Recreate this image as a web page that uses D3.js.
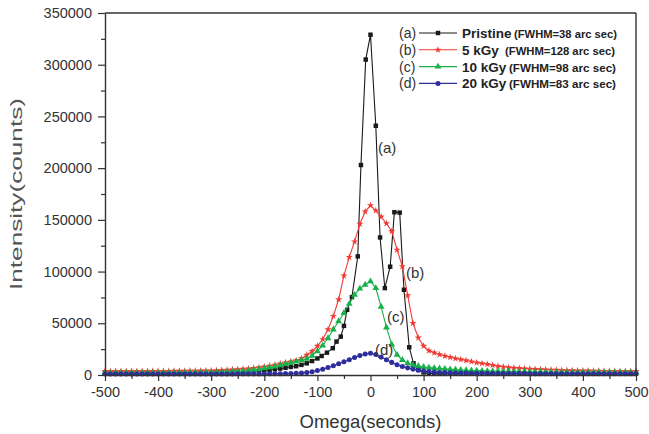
<!DOCTYPE html>
<html><head><meta charset="utf-8">
<script src="https://cdn.jsdelivr.net/npm/d3@7/dist/d3.min.js"></script>
<style>body{margin:0;background:#fff}svg{display:block;font-family:"Liberation Sans",Arial,sans-serif}</style>
</head><body><svg id="c" width="649" height="434"></svg>
<script>
// ---- data ----
const omega = [
  -500,-490,-480,-470,-460,-450,-440,-430,-420,-410,
  -400,-390,-380,-370,-360,-350,-340,-330,-320,-310,
  -300,-290,-280,-270,-260,-250,-240,-230,-220,-210,
  -200,-190,-180,-170,-160,-150,-140,-130,-120,-110,
  -100,-90,-80,-70,-60,-50,-40,-30,-20,-10,
  0,10,20,30,40,50,60,70,80,90,
  100,110,120,130,140,150,160,170,180,190,
  200,210,220,230,240,250,260,270,280,290,
  300,310,320,330,340,350,360,370,380,390,
  400,410,420,430,440,450,460,470,480,490,
  500];
const omegaA = [
  -500,-490,-480,-470,-460,-450,-440,-430,-420,-410,
  -400,-390,-380,-370,-360,-350,-340,-330,-320,-310,
  -300,-290,-280,-270,-260,-250,-240,-230,-220,-210,
  -200,-190,-180,-170,-160,-150,-140,-130,-120,-110,
  -100,-92,-82,-71,-64,-56,-50,-44,-35,-24,
  -18,-9,0,10,18,27,37,45,55,63,
  73,81,90,100,110,120,130,140,150,160,
  170,180,190,200,210,220,230,240,250,260,
  270,280,290,300,310,320,330,340,350,360,
  370,380,390,400,410,420,430,440,450,460,
  470,480,490,500];
const pristine = [
  2000,2000,2000,2000,2000,2000,2000,2000,2000,2000,
  2000,2000,2000,2100,2100,2100,2200,2200,2300,2400,
  2500,2600,2700,2800,2900,3000,3200,3500,3800,4100,
  4500,5000,5500,6200,7000,7800,8500,9800,11300,13500,
  16000,18400,21600,25900,32300,37100,47500,63000,75300,114700,
  203000,305000,329000,241000,133000,84000,104700,157400,157000,82400,
  26800,11300,5000,2500,1600,1400,1300,1300,1200,1200,
  1200,1200,1200,1200,1200,1200,1200,1200,1200,1200,
  1200,1200,1200,1200,1200,1200,1200,1200,1200,1200,
  1200,1200,1200,1200,1200,1200,1200,1200,1200,1200,
  1200,1200,1200,1200];
const kGy5 = [
  3600,3600,3600,3600,3600,3700,3700,3700,3700,3800,
  3800,3800,3800,3900,3900,3900,4000,4000,4100,4200,
  4300,4500,4700,4900,5200,5500,5800,6200,6700,7300,
  8000,8800,9800,10900,12000,13000,14000,16000,19400,23000,
  28000,34500,44000,57000,73000,96000,114000,129000,146000,158000,
  164000,159000,153000,146500,139000,121000,105000,77000,50000,36000,
  28000,23500,21500,19800,18400,17200,16000,15000,14000,13000,
  12000,11200,10400,9500,8600,7900,7300,6900,6500,6200,
  5900,5600,5400,5200,5000,4800,4600,4500,4400,4300,
  4200,4100,4000,3900,3800,3800,3700,3700,3600,3600,
  3600];
const kGy10 = [
  2000,2000,2000,2000,2000,2000,2000,2000,2000,2000,
  2100,2100,2100,2100,2200,2200,2200,2300,2300,2400,
  2500,2600,2700,2900,3100,3400,3800,4300,4900,5600,
  6400,7300,8300,9400,10600,11800,13000,14200,15600,18500,
  23000,28500,35500,44000,52000,60000,68800,77500,83500,87300,
  90500,84000,66000,46000,29500,19500,14500,11500,9700,8700,
  7800,7200,6700,6300,5900,5500,5200,4900,4600,4400,
  4200,4000,3800,3700,3600,3500,3400,3300,3200,3100,
  3000,2900,2900,2800,2800,2700,2700,2600,2600,2600,
  2500,2500,2500,2500,2400,2400,2400,2400,2400,2400,
  2400];
const kGy20 = [
  1000,1000,1000,1000,1000,1000,1000,1000,1000,1000,
  1000,1000,1000,1000,1000,1000,1000,1000,1000,1000,
  1000,1000,1000,1000,1000,1100,1100,1100,1100,1100,
  1200,1200,1200,1300,1400,1500,1700,1900,2300,3200,
  4300,5500,7300,9000,10800,12800,14800,17000,18800,20300,
  21000,19800,17300,14700,12200,10000,8300,6900,5700,4700,
  3900,3300,2800,2500,2300,2100,2000,1900,1800,1700,
  1700,1600,1600,1500,1500,1500,1400,1400,1400,1400,
  1300,1300,1300,1300,1300,1300,1200,1200,1200,1200,
  1200,1200,1200,1200,1200,1200,1200,1200,1200,1200,
  1200];
const xTicks = [-500,-400,-300,-200,-100,0,100,200,300,400,500];
const xMinor = [-450,-350,-250,-150,-50,50,150,250,350,450];
const yTicks = [0,50000,100000,150000,200000,250000,300000,350000];
const yMinor = [25000,75000,125000,175000,225000,275000,325000];
const seriesNames = ["Pristine","5 kGy","10 kGy","20 kGy"];
const seriesTags = ["(a)","(b)","(c)","(d)"];
const fwhm = ["(FWHM=38 arc sec)","(FWHM=128 arc sec)","(FWHM=98 arc sec)","(FWHM=83 arc sec)"];
const colors = ["#1a1a1a","#f03a32","#18b04a","#2e2e9c"];

// ---- chart ----
const svg = d3.select("#c");
const L=105,R=636,T=13,B=375;
const x = d3.scaleLinear().domain([-500,500]).range([L,R]);
const y = d3.scaleLinear().domain([0,350000]).range([B,T]);
const axisCol="#333";

const series = [
  {xs:omegaA, ys:pristine, sym:d3.symbolSquare, size:20},
  {xs:omega, ys:kGy5, sym:d3.symbolStar, size:16},
  {xs:omega, ys:kGy10, sym:d3.symbolTriangle, size:20},
  {xs:omega, ys:kGy20, sym:d3.symbolCircle, size:20}
];
const line = d3.line().x(d=>x(d[0])).y(d=>y(d[1]));
const g = svg.append("g");
[0,1,2,3].forEach(i=>{
  const s=series[i];
  const pts=s.xs.map((v,k)=>[v,s.ys[k]]);
  g.append("path").attr("d",line(pts)).attr("fill","none").attr("stroke",colors[i]).attr("stroke-width",1.1);
  const sym=d3.symbol().type(s.sym).size(s.size);
  g.selectAll(null).data(pts).enter().append("path")
    .attr("d",sym).attr("transform",d=>`translate(${x(d[0])},${y(d[1])})`)
    .attr("fill",colors[i]);
});

// frame
svg.append("line").attr("x1",L).attr("x2",R).attr("y1",T).attr("y2",T).attr("stroke",axisCol).attr("stroke-width",1.4);
svg.append("line").attr("x1",R).attr("x2",R).attr("y1",T).attr("y2",B).attr("stroke",axisCol).attr("stroke-width",1.4);

// axes
const fmt = d=>String(d);
svg.append("g").attr("transform",`translate(0,${B})`)
  .call(d3.axisBottom(x).tickValues(xTicks).tickFormat(fmt).tickSize(6).tickPadding(6).tickSizeOuter(0));
svg.append("g").attr("transform",`translate(0,${B})`)
  .call(d3.axisBottom(x).tickValues(xMinor).tickSize(4).tickFormat("").tickSizeOuter(0))
  .select(".domain").remove();
svg.append("g").attr("transform",`translate(${L},0)`)
  .call(d3.axisLeft(y).tickValues(yTicks).tickFormat(fmt).tickSize(7).tickPadding(6).tickSizeOuter(0));
svg.append("g").attr("transform",`translate(${L},0)`)
  .call(d3.axisLeft(y).tickValues(yMinor).tickSize(4).tickFormat("").tickSizeOuter(0))
  .select(".domain").remove();
svg.selectAll(".domain").attr("stroke",axisCol).attr("stroke-width",1.4);
svg.selectAll(".tick line").attr("stroke",axisCol).attr("stroke-width",1.2);
svg.selectAll(".tick text").attr("fill","#333").attr("font-size",14.5).attr("font-family","Liberation Sans, Arial, sans-serif");

// titles
svg.append("text").attr("x",(L+R)/2).attr("y",428).attr("text-anchor","middle")
  .attr("font-size",18.5).attr("fill","#333").text("Omega(seconds)");
svg.append("text").attr("transform","translate(22,194) rotate(-90)").attr("text-anchor","middle")
  .attr("font-size",17).attr("fill","#555").attr("textLength",192).attr("lengthAdjust","spacingAndGlyphs")
  .text("Intensity(counts)");

// legend
const lg = svg.append("g");
const fwX = [514,505,509,509], fwW = [103,110,107,107];
seriesNames.forEach((nm,i)=>{
  const yy = 38 + i*16.8;
  lg.append("text").attr("x",399).attr("y",yy).attr("font-size",14).attr("fill","#333").text(seriesTags[i]);
  lg.append("line").attr("x1",419).attr("x2",457).attr("y1",yy-5).attr("y2",yy-5).attr("stroke",colors[i]).attr("stroke-width",1.1);
  lg.append("path").attr("d",d3.symbol().type(series[i].sym).size(series[i].size)()).attr("transform",`translate(438,${yy-5})`).attr("fill",colors[i]);
  lg.append("text").attr("x",462).attr("y",yy).attr("fill","#222").attr("font-weight","bold")
    .attr("font-size",13.5).text(nm);
  lg.append("text").attr("x",fwX[i]).attr("y",yy).attr("fill","#222").attr("font-weight","bold")
    .attr("font-size",10).attr("textLength",fwW[i]).attr("lengthAdjust","spacingAndGlyphs").text(fwhm[i]);
});

// curve labels
const lbl = [[378,153],[406,278],[387,322],[375,355]];
seriesTags.forEach((tg,i)=>{
  svg.append("text").attr("x",lbl[i][0]).attr("y",lbl[i][1]).attr("font-size",15).attr("fill","#333").text(tg);
});
</script></body></html>
